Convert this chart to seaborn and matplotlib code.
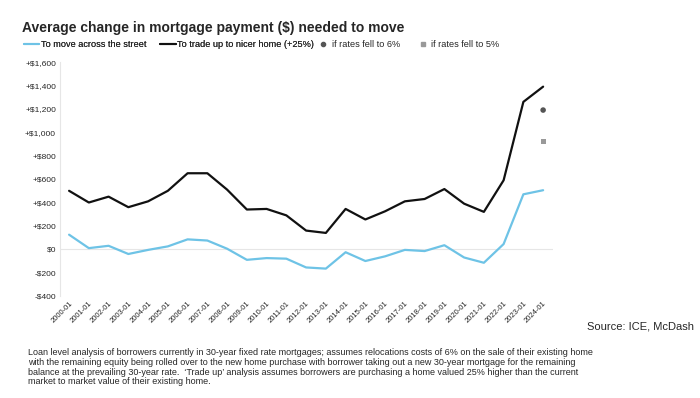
import numpy as np
import pandas as pd
import seaborn as sns
import matplotlib
import matplotlib.pyplot as plt
from matplotlib.lines import Line2D

matplotlib.use("Agg")

years = list(range(2000, 2025))
across_street = [125, 10, 30, -40, -5, 25, 85, 75, 5, -90, -75, -80, -155, -165,
                 -25, -100, -60, -5, -15, 35, -70, -115, 45, 470, 505]
trade_up = [500, 400, 450, 360, 410, 500, 650, 650, 510, 340, 345, 290, 160, 140,
            345, 255, 325, 410, 430, 515, 390, 320, 590, 1260, 1390]
rate6 = 1190
rate5 = 920
tick_labels = [f"{y}-01" for y in years]
y_ticks = [-400, -200, 0, 200, 400, 600, 800, 1000, 1200, 1400, 1600]

def fmt_dollar(v):
    if v > 0:
        return f"+${v:,}"
    if v < 0:
        return f"-${abs(v):,}"
    return "$0"

df = pd.DataFrame({"year": years, "To move across the street": across_street,
                   "To trade up to nicer home (+25%)": trade_up})
long_df = df.melt(id_vars="year", var_name="series", value_name="change")

sns.set_style("white")
plt.rcParams["font.family"] = ["Liberation Sans", "DejaVu Sans"]

fig = plt.figure(figsize=(7, 3.98), dpi=100)
ax = fig.add_axes([0.086, 0.256, 0.704, 0.588])

palette = {"To move across the street": "#6ec3e6",
           "To trade up to nicer home (+25%)": "#111111"}
ax.axhline(0, color="#e6e6e6", lw=0.8, zorder=0)
sns.lineplot(data=long_df, x="year", y="change", hue="series", palette=palette,
             linewidth=1.6, legend=False, ax=ax)
sns.scatterplot(x=[2024], y=[rate6], color="#555555", marker="o", s=16,
                edgecolor="none", ax=ax)
sns.scatterplot(x=[2024], y=[rate5], color="#999999", marker="s", s=14,
                edgecolor="none", ax=ax)

ax.set_xlim(1999.55, 2024.5)
ax.set_ylim(-400, 1600)
ax.set_yticks(y_ticks)
ax.set_yticklabels([fmt_dollar(v) for v in y_ticks], fontsize=6)
ax.set_xticks(years)
ax.set_xticklabels(tick_labels, rotation=45, ha="right", rotation_mode="anchor",
                   fontsize=5.5)
ax.tick_params(axis="both", length=0, pad=3)
ax.set_xlabel("")
ax.set_ylabel("")
for s in ["top", "right", "bottom"]:
    ax.spines[s].set_visible(False)
ax.spines["left"].set_color("#e6e6e6")
ax.spines["left"].set_linewidth(0.8)

fig.text(0.031, 0.93, "Average change in mortgage payment ($) needed to move",
         fontsize=10, fontweight="bold", va="center")

line_handles = [Line2D([0], [0], color="#6ec3e6", lw=1.5),
                Line2D([0], [0], color="#111111", lw=1.5)]
line_labels = ["To move across the street", "To trade up to nicer home (+25%)"]
leg1 = fig.legend(line_handles, line_labels, loc="center left",
                  bbox_to_anchor=(0.034, 0.888), ncol=2, frameon=False,
                  fontsize=6.6, handlelength=1.7, handletextpad=0.15,
                  columnspacing=1.5, borderpad=0, borderaxespad=0)
dot_handles = [Line2D([0], [0], color="#555555", marker="o", ls="none", ms=3),
               Line2D([0], [0], color="#999999", marker="s", ls="none", ms=3)]
dot_labels = ["if rates fell to 6%", "if rates fell to 5%"]
fig.legend(dot_handles, dot_labels, loc="center left",
           bbox_to_anchor=(0.458, 0.888), ncol=2, frameon=False,
           fontsize=6.6, handlelength=0.6, handletextpad=0.6,
           columnspacing=2.2, borderpad=0, borderaxespad=0)
fig.add_artist(leg1)

fig.text(0.838, 0.18, "Source: ICE, McDash", fontsize=8, va="center")

note = ("Loan level analysis of borrowers currently in 30-year fixed rate mortgages; assumes relocations costs of 6% on the sale of their existing home\n"
        "with the remaining equity being rolled over to the new home purchase with borrower taking out a new 30-year mortgage for the remaining\n"
        "balance at the prevailing 30-year rate.  \u2018Trade up\u2019 analysis assumes borrowers are purchasing a home valued 25% higher than the current\n"
        "market to market value of their existing home.")
fig.text(0.04, 0.125, note, fontsize=6.5, va="top", linespacing=1.1)

fig.savefig("out.png", dpi=100)
